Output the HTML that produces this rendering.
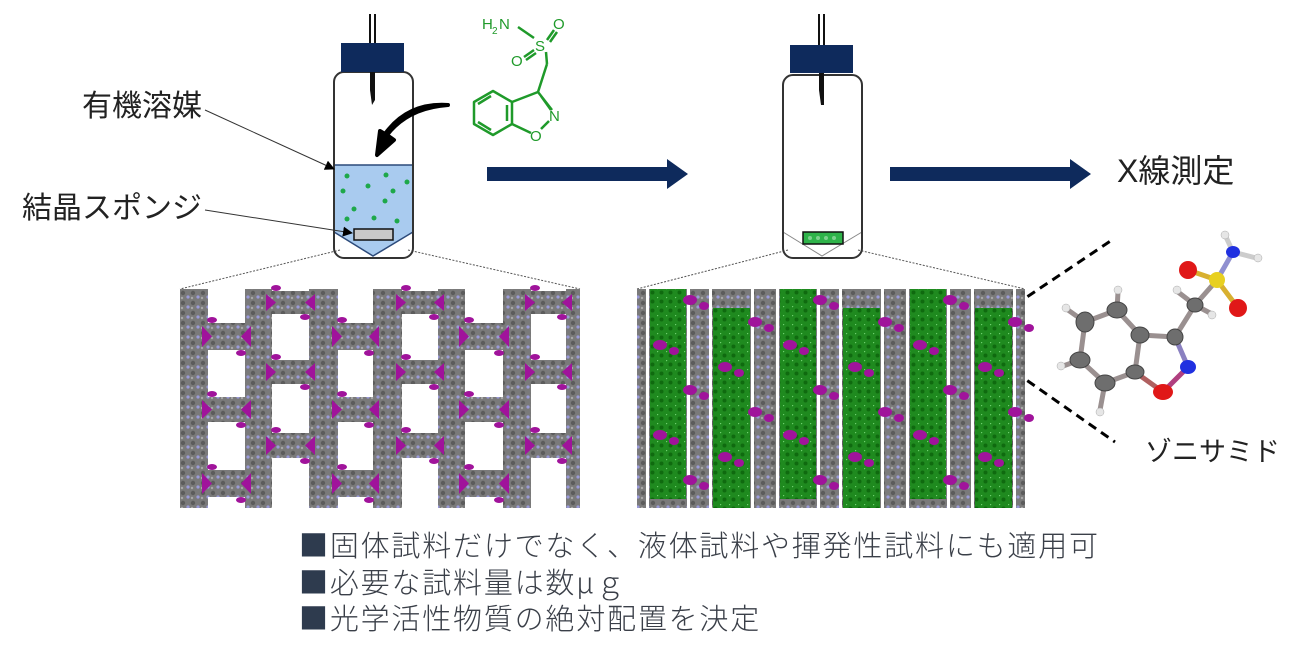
<!DOCTYPE html>
<html><head><meta charset="utf-8">
<style>
html,body{margin:0;padding:0;background:#fff;}
body{width:1290px;height:658px;position:relative;overflow:hidden;font-family:"Liberation Sans","Noto Sans CJK JP",sans-serif;}
.t{position:absolute;color:#222;white-space:nowrap;font-family:"Liberation Sans","Noto Sans CJK JP",sans-serif;}
.b{position:absolute;left:299px;font-size:29px;color:#3a3f48;white-space:nowrap;font-family:"Noto Sans CJK JP",sans-serif;font-weight:300;letter-spacing:1.8px;line-height:1;}
.b span{color:#2e3b4e;}
</style></head><body>
<svg id="s" width="1290" height="658" style="position:absolute;left:0;top:0">
<defs>
<pattern id="gp" width="10" height="10" patternUnits="userSpaceOnUse">
<rect width="10" height="10" fill="#7a7a7a"/>
<circle cx="3" cy="3" r="2.2" fill="#5c5c5c"/>
<circle cx="8" cy="7" r="1.6" fill="#9a9ad8"/>
<circle cx="2" cy="8" r="1.2" fill="#a8a8a8"/>
</pattern>
<pattern id="grp" width="9" height="9" patternUnits="userSpaceOnUse">
<rect width="9" height="9" fill="#1f8a1f"/>
<circle cx="4.5" cy="4.5" r="2" fill="#0f6a0f"/>
<circle cx="0" cy="0" r="1.3" fill="#6fcf6f"/>
</pattern>
<marker id="ah" markerWidth="10" markerHeight="10" refX="9" refY="5" orient="auto" markerUnits="userSpaceOnUse"><path d="M0,0 L10,5 L0,10 z" fill="#000"/></marker>
</defs>

<g stroke="#555" stroke-width="1" stroke-dasharray="2,1.5" fill="none">
<line x1="340" y1="250" x2="180" y2="289"/>
<line x1="408" y1="250" x2="580" y2="289"/>
<line x1="788" y1="250" x2="637" y2="289"/>
<line x1="858" y1="250" x2="1025" y2="289"/>
</g>
<g stroke="#000" stroke-width="3" stroke-dasharray="9,6" fill="none">
<line x1="1015" y1="305" x2="1112" y2="240"/>
<line x1="1015" y1="372" x2="1115" y2="442"/>
</g>

<g>
<line x1="370" y1="14" x2="370" y2="48" stroke="#111" stroke-width="2"/>
<line x1="375" y1="14" x2="375" y2="48" stroke="#111" stroke-width="2"/>
<path d="M334,165 L413,165 L413,232 L373,256 L334,232 Z" fill="#a9cbef" stroke="#2c4a7a" stroke-width="1.5"/>
<rect x="334" y="72" width="79" height="186" rx="10" fill="none" stroke="#333" stroke-width="2"/>
<rect x="341" y="43" width="63" height="29" fill="#0e2a5c"/>
<path d="M370,72 L375,72 L375,100 L372,105 L370,90 Z" fill="#111"/>
<rect x="354" y="229" width="39" height="11" fill="#c8c8c8" stroke="#111" stroke-width="1.5"/>
<g fill="#1ea84a">
<circle cx="347" cy="176" r="2.5"/><circle cx="386" cy="175" r="2.5"/><circle cx="407" cy="182" r="2.5"/>
<circle cx="368" cy="186" r="2.5"/><circle cx="343" cy="191" r="2.5"/><circle cx="393" cy="191" r="2.5"/>
<circle cx="385" cy="201" r="2.5"/><circle cx="354" cy="209" r="2.5"/><circle cx="347" cy="219" r="2.5"/>
<circle cx="374" cy="218" r="2.5"/><circle cx="397" cy="221" r="2.5"/>
</g>
<path d="M448,105 C420,107 400,118 387,135 L394,140 L377,155 L380,131 L385,134 C398,116 418,103 448,105 Z" fill="#000" stroke="#000" stroke-width="4" stroke-linejoin="round"/>
</g>
<line x1="205" y1="110" x2="334" y2="169" stroke="#333" stroke-width="1" marker-end="url(#ah)"/>
<line x1="205" y1="210" x2="352" y2="233" stroke="#333" stroke-width="1" marker-end="url(#ah)"/>

<g stroke="#1f9a2a" stroke-width="2.5" fill="none" stroke-linejoin="round">
<line x1="518" y1="27" x2="534" y2="38"/>
<line x1="547" y1="40" x2="554" y2="30"/>
<line x1="550" y1="42" x2="557" y2="32"/>
<line x1="534" y1="50" x2="524" y2="57"/>
<line x1="536" y1="53" x2="526" y2="60"/>
<line x1="546" y1="52" x2="547" y2="64"/>
<line x1="547" y1="64" x2="538" y2="92"/>
<path d="M512,102 L512,124 L493,135 L474,124 L474,102 L493,91 Z"/>
<path d="M507,105 L507,121 M491,130 L478,122 M478,104 L491,96"/>
<path d="M512,102 L538,92 L552,110 M541,96 L551,110 M549,121 L541,129 M531,133 L512,124"/>
</g>
<g fill="#1f9a2a" font-family="Liberation Sans,sans-serif" font-size="15">
<text x="482" y="29">H</text><text x="492" y="34" font-size="10">2</text><text x="499" y="29">N</text>
<text x="535" y="51">S</text><text x="553" y="29">O</text><text x="511" y="66">O</text>
<text x="549" y="121">N</text><text x="530" y="141">O</text>
</g>

<path d="M487,167 L667,167 L667,159 L688,174 L667,189 L667,181 L487,181 Z" fill="#0e2a5c"/>
<path d="M890,167 L1070,167 L1070,159 L1091,174 L1070,189 L1070,181 L890,181 Z" fill="#0e2a5c"/>

<g>
<line x1="819" y1="14" x2="819" y2="48" stroke="#111" stroke-width="2"/>
<line x1="824" y1="14" x2="824" y2="48" stroke="#111" stroke-width="2"/>
<path d="M783,232 L822,256 L862,232" fill="none" stroke="#888" stroke-width="1"/>
<rect x="783" y="75" width="79" height="183" rx="10" fill="none" stroke="#333" stroke-width="2"/>
<rect x="790" y="45" width="63" height="28" fill="#0e2a5c"/>
<path d="M819,73 L824,73 L824,105 L821,105 L819,90 Z" fill="#111"/>
<rect x="803" y="232" width="40" height="12" fill="#2fb34a" stroke="#111" stroke-width="1.5"/>
<g fill="#7fd18f"><circle cx="810" cy="238" r="2"/><circle cx="818" cy="238" r="2"/><circle cx="826" cy="238" r="2"/><circle cx="834" cy="238" r="2"/></g>
</g>

<g id="latL"></g>
<g id="latR"></g>

<g stroke="#9a9090" stroke-width="5" stroke-linecap="round">
<line x1="1117" y1="310" x2="1085" y2="322"/><line x1="1085" y1="322" x2="1080" y2="360"/>
<line x1="1080" y1="360" x2="1105" y2="383"/><line x1="1105" y1="383" x2="1135" y2="372"/>
<line x1="1135" y1="372" x2="1140" y2="335"/><line x1="1140" y1="335" x2="1117" y2="310"/>
<line x1="1140" y1="335" x2="1175" y2="337"/><line x1="1175" y1="337" x2="1195" y2="305"/>
<line x1="1195" y1="305" x2="1217" y2="280"/>
<line x1="1117" y1="310" x2="1118" y2="292"/><line x1="1085" y1="322" x2="1068" y2="310"/>
<line x1="1080" y1="360" x2="1063" y2="366"/><line x1="1105" y1="383" x2="1100" y2="410"/>
<line x1="1195" y1="305" x2="1178" y2="292"/><line x1="1195" y1="305" x2="1210" y2="313"/>
</g>
<g stroke-width="5" stroke-linecap="round">
<line x1="1175" y1="337" x2="1188" y2="367" stroke="#8a80c0"/>
<line x1="1188" y1="367" x2="1163" y2="392" stroke="#b04080"/>
<line x1="1163" y1="392" x2="1135" y2="372" stroke="#b06060"/>
<line x1="1217" y1="280" x2="1188" y2="270" stroke="#d8b030"/>
<line x1="1217" y1="280" x2="1238" y2="308" stroke="#d8b030"/>
<line x1="1217" y1="280" x2="1233" y2="252" stroke="#9090d0"/>
<line x1="1233" y1="252" x2="1226" y2="237" stroke="#ccc"/>
<line x1="1233" y1="252" x2="1256" y2="258" stroke="#ccc"/>
</g>
<g fill="#e6e6e6" stroke="#aaa" stroke-width="0.5">
<circle cx="1118" cy="290" r="4"/><circle cx="1066" cy="308" r="4"/><circle cx="1061" cy="366" r="4"/>
<circle cx="1100" cy="412" r="4"/><circle cx="1177" cy="290" r="4"/><circle cx="1212" cy="315" r="4"/>
<circle cx="1225" cy="235" r="4"/><circle cx="1258" cy="258" r="4"/>
</g>
<g fill="#6e6e6e" stroke="#444" stroke-width="1">
<ellipse cx="1117" cy="310" rx="10" ry="8"/><ellipse cx="1085" cy="322" rx="9" ry="10"/>
<ellipse cx="1080" cy="360" rx="10" ry="8"/><ellipse cx="1105" cy="383" rx="10" ry="8"/>
<ellipse cx="1135" cy="372" rx="9" ry="7"/><ellipse cx="1140" cy="335" rx="9" ry="8"/>
<ellipse cx="1175" cy="337" rx="8" ry="8"/><ellipse cx="1195" cy="305" rx="8" ry="7"/>
</g>
<ellipse cx="1188" cy="367" rx="8" ry="7" fill="#2030e0"/>
<ellipse cx="1163" cy="392" rx="10" ry="8" fill="#e01818"/>
<ellipse cx="1217" cy="280" rx="8" ry="8" fill="#e8d020"/>
<ellipse cx="1188" cy="270" rx="9" ry="9" fill="#e01818"/>
<ellipse cx="1238" cy="308" rx="9" ry="9" fill="#e01818"/>
<ellipse cx="1233" cy="252" rx="7" ry="6" fill="#2030e0"/>
</svg>

<div class="t" style="left:82px;top:89px;font-size:30px;line-height:1.2;">有機溶媒</div>
<div class="t" style="left:22px;top:191px;font-size:30px;line-height:1.2;">結晶スポンジ</div>
<div class="t" style="left:1117px;top:152px;font-size:32px;line-height:1.2;">X線測定</div>
<div class="t" style="left:1145px;top:430px;font-size:27px;">ゾニサミド</div>

<div class="b" style="top:530px;"><span>■</span>固体試料だけでなく、液体試料や揮発性試料にも適用可</div>
<div class="b" style="top:567px;"><span>■</span>必要な試料量は数μｇ</div>
<div class="b" style="top:603px;"><span>■</span>光学活性物質の絶対配置を決定</div>

<script>
(function(){
var NS="http://www.w3.org/2000/svg";
function el(p,t,a){var e=document.createElementNS(NS,t);for(var k in a)e.setAttribute(k,a[k]);p.appendChild(e);return e;}
var L=document.getElementById('latL');
var pil=[[180,208],[245,272],[309,338],[373,402],[438,465],[503,531],[566,580]];
pil.forEach(function(p){el(L,'rect',{x:p[0],y:289,width:p[1]-p[0],height:219,fill:'url(#gp)'});});
var A=[[323,350],[397,422],[470,497]],B=[[291,314],[360,384],[433,458]];
for(var i=0;i<pil.length-1;i++){
 var ys=(i%2==0)?A:B;var x0=pil[i][1],x1=pil[i+1][0];
 ys.forEach(function(y){
  el(L,'rect',{x:x0,y:y[0],width:x1-x0,height:y[1]-y[0],fill:'url(#gp)'});
  el(L,'path',{d:'M'+(x0-6)+','+(y[0]+3)+' l10,'+((y[1]-y[0])/2-3)+' l-10,'+((y[1]-y[0])/2-3)+' z',fill:'#a0139b'});
  el(L,'path',{d:'M'+(x1+6)+','+(y[0]+3)+' l-10,'+((y[1]-y[0])/2-3)+' l10,'+((y[1]-y[0])/2-3)+' z',fill:'#a0139b'});
  el(L,'ellipse',{cx:x0+4,cy:y[0]-3,rx:5,ry:3,fill:'#a0139b'});
  el(L,'ellipse',{cx:x1-4,cy:y[1]+3,rx:5,ry:3,fill:'#a0139b'});
 });
}
var R=document.getElementById('latR');
el(R,'rect',{x:637,y:289,width:388,height:219,fill:'url(#gp)'});
var gx=[[650,686],[713,750],[780,816],[843,880],[910,946],[975,1012]];
gx.forEach(function(g,i){
 el(R,'rect',{x:g[0]-4,y:289,width:3,height:219,fill:'#fff'});
 el(R,'rect',{x:g[1]+1,y:289,width:3,height:219,fill:'#fff'});
 el(R,'rect',{x:g[0],y:(i%2?308:289),width:g[1]-g[0],height:(i%2?200:210),fill:'url(#grp)'});
});
for(var c=0;c<6;c++){for(var r=0;r<5;r++){
 var x=690+c*65+(r%2?-30:0),y=300+r*45+(c%2?22:0);
 if(y>500)continue;
 el(R,'ellipse',{cx:x,cy:y,rx:7,ry:5,fill:'#a0139b'});
 el(R,'ellipse',{cx:x+14,cy:y+6,rx:5,ry:4,fill:'#a0139b'});
}}
})();
</script>
</body></html>
